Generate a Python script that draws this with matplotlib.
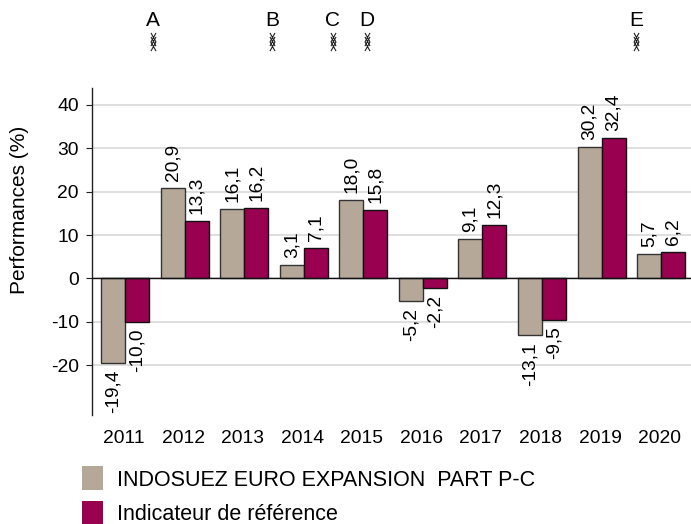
import matplotlib
matplotlib.use("Agg")
import matplotlib.pyplot as plt
from matplotlib.patches import Rectangle
from matplotlib.path import Path
from matplotlib.transforms import blended_transform_factory, ScaledTranslation
import numpy as np

years = ["2011","2012","2013","2014","2015","2016","2017","2018","2019","2020"]
fund = [-19.4,20.9,16.1,3.1,18.0,-5.2,9.1,-13.1,30.2,5.7]
bench = [-10.0,13.3,16.2,7.1,15.8,-2.2,12.3,-9.5,32.4,6.2]
fund_name = "INDOSUEZ EURO EXPANSION  PART P-C"
bench_name = "Indicateur de référence"
event_labels = ["A","B","C","D","E"]
event_pos = [0.47,2.47,3.49,4.06,8.58]
yticks = [-20,-10,0,10,20,30,40]

W,H = 691,524
plt.rcParams['font.family'] = ['Liberation Sans','DejaVu Sans']
plt.rcParams['axes.unicode_minus'] = False
FS = 13.9
fig = plt.figure(figsize=(W/100,H/100),dpi=100)
L,R,T,B = 91.5,691,88,415
ax = fig.add_axes([L/W,1-B/H,(R-L)/W,(B-T)/H])
ax.set_xlim(-0.562,9.5)
ax.set_ylim(-31.5,43.9)
x = np.arange(len(years))
w = 0.403
tan,maroon = "#B5A898","#990050"
ax.bar(x-w/2,fund,w,color=tan,edgecolor="#333333",linewidth=1,zorder=3)
ax.bar(x+w/2,bench,w,color=maroon,edgecolor="#111111",linewidth=1,zorder=3)
ax.yaxis.grid(True,color="#d9d9d9",linewidth=1.2,zorder=0)
ax.set_axisbelow(True)
ax.axhline(0,color="#111111",linewidth=1,zorder=4)
for s in ("top","right","bottom"):
    ax.spines[s].set_visible(False)
ax.spines["left"].set_color("#222222")
ax.spines["left"].set_linewidth(1)
ax.set_yticks(yticks)
ax.tick_params(axis='y',length=4,width=0.8,color="#222222",labelsize=FS,pad=5)
ax.set_xticks(x)
ax.set_xticklabels(years,fontsize=FS)
ax.tick_params(axis='x',length=0,pad=11)
shift = ScaledTranslation(-1.5/100,0,fig.dpi_scale_trans)
for t in ax.get_xticklabels():
    t.set_transform(t.get_transform()+shift)
fig.text(20/W,1-210/H,"Performances (%)",rotation=90,fontsize=15,ha='center',va='center')

def fmt(v):
    return f"{v:.1f}".replace(".",",")
for xs,vals in ((x-w/2,fund),(x+w/2,bench)):
    for xi,v in zip(xs,vals):
        ax.annotate(fmt(v),(xi,v),xytext=(0,5 if v>0 else -5),textcoords='offset points',
                    rotation=90,fontsize=13.8,ha='center',va='bottom' if v>0 else 'top',zorder=5,annotation_clip=False)

cross = Path([(-0.55,-1),(0.55,1),(-0.55,1),(0.55,-1)],[Path.MOVETO,Path.LINETO,Path.MOVETO,Path.LINETO])
tr = blended_transform_factory(ax.transData,fig.transFigure)
for lab,p in zip(event_labels,event_pos):
    ax.text(p,1-21/H,lab,transform=tr,fontsize=15,ha='center',va='center',clip_on=False)
    for yy in (36.5,41,45.5):
        ax.plot([p],[1-yy/H],marker=cross,ms=6.6,mew=0.8,mfc='none',color="#222222",transform=tr,clip_on=False,ls='none')

for (y0,y1),col,name in (((466,490),tan,fund_name),((501,524),maroon,bench_name)):
    fig.add_artist(Rectangle((82/W,1-y1/H),21/W,(y1-y0)/H,transform=fig.transFigure,facecolor=col,edgecolor='none'))
    fig.text(117/W,1-((y0+y1)/2+2)/H,name,fontsize=15.5,ha='left',va='center')
fig.savefig("out.png",dpi=100)
